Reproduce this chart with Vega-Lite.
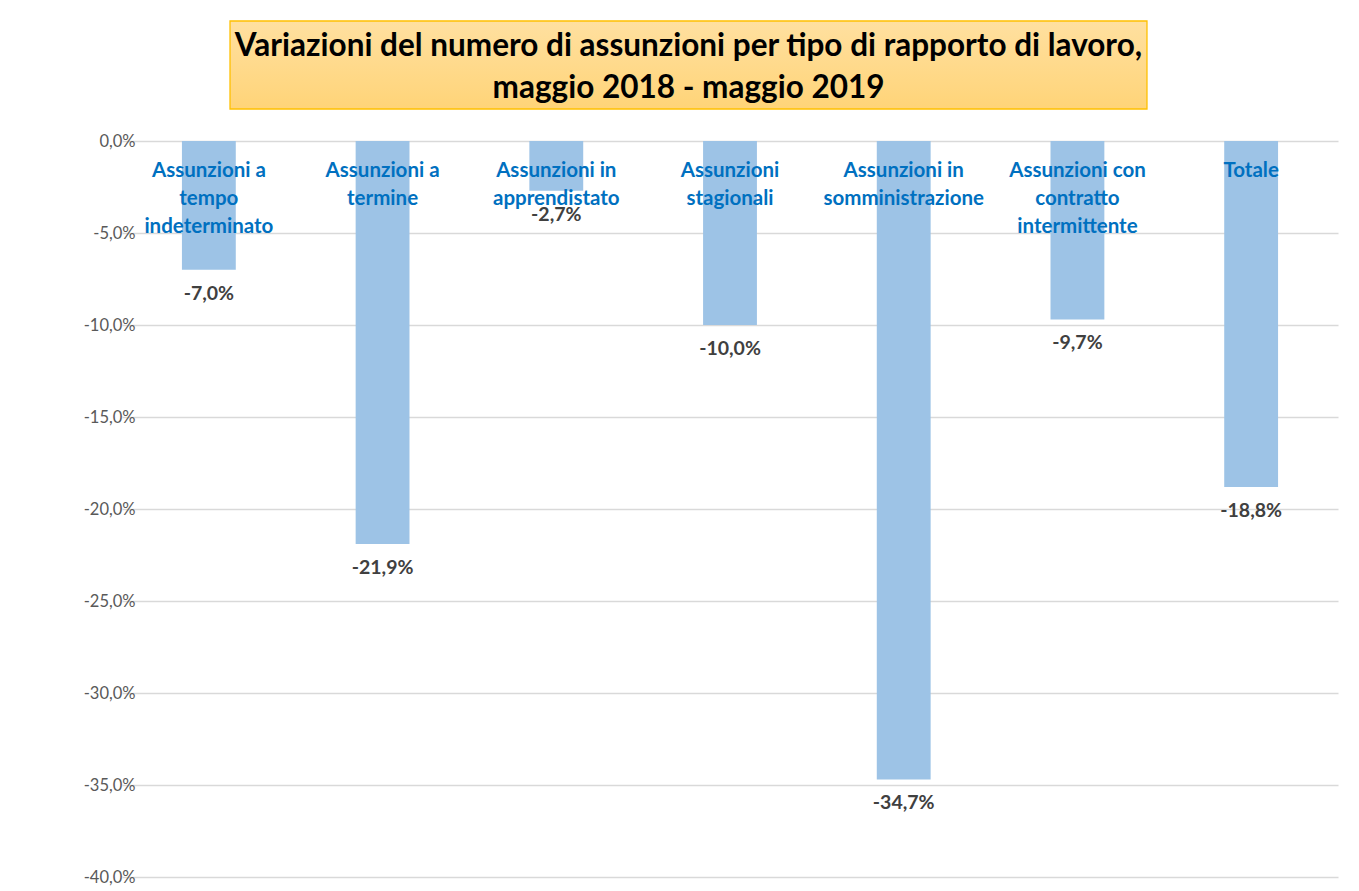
{
  "$schema": "https://vega.github.io/schema/vega-lite/v6.json",
  "padding": {"left": 83, "top": 20, "right": 5, "bottom": 5},
  "background": "white",
  "config": {
    "locale": {"number": {"decimal": ",", "thousands": ".", "grouping": [3], "currency": ["€", ""], "minus": "-"}},
    "font": "Lato"
  },
  "datasets": {
    "titolo": [{"t": "Variazioni del numero di assunzioni per tipo di rapporto di lavoro,\nmaggio 2018 - maggio 2019"}],
    "main": [
      {"tipo": "Assunzioni a\ntempo\nindeterminato", "v": -0.070},
      {"tipo": "Assunzioni a\ntermine", "v": -0.219},
      {"tipo": "Assunzioni in\napprendistato", "v": -0.027},
      {"tipo": "Assunzioni\nstagionali", "v": -0.100},
      {"tipo": "Assunzioni in\nsomministrazione", "v": -0.347},
      {"tipo": "Assunzioni con\ncontratto\nintermittente", "v": -0.097},
      {"tipo": "Totale", "v": -0.188}
    ]
  },
  "spacing": 23,
  "center": true,
  "vconcat": [
    {
      "width": 1216,
      "height": 88,
      "view": {"stroke": null},
      "data": {"name": "titolo"},
      "encoding": {
        "x": {"field": "t", "type": "nominal", "axis": null,
              "scale": {"paddingInner": 0, "paddingOuter": 0.16305, "align": 0.3612}}
      },
      "layer": [
        {
          "mark": {"type": "bar", "stroke": "#FFC000", "strokeWidth": 1.3,
                   "fill": {"gradient": "linear", "x1": 0, "y1": 0, "x2": 0, "y2": 1,
                            "stops": [{"offset": 0, "color": "#FFE0A0"}, {"offset": 1, "color": "#FFD478"}]}}
        },
        {
          "mark": {"type": "text", "fontSize": 31.5, "fontWeight": "bold", "lineHeight": 42, "lineBreak": "\n", "color": "#000000", "baseline": "middle", "align": "center", "dy": -18},
          "encoding": {"text": {"field": "t"}}
        }
      ]
    },
    {
      "width": 1216,
      "height": 736,
      "view": {"stroke": null},
      "data": {"name": "main"},
      "encoding": {
        "x": {"field": "tipo", "type": "nominal", "sort": null, "axis": null,
              "scale": {"paddingInner": 0.69, "paddingOuter": 0.345}}
      },
      "layer": [
        {
          "mark": {"type": "bar", "color": "#9DC3E6"},
          "encoding": {
            "y": {"field": "v", "type": "quantitative", "title": null,
                  "scale": {"domain": [-0.4, 0], "nice": false},
                  "axis": {"values": [0, -0.05, -0.1, -0.15, -0.2, -0.25, -0.3, -0.35, -0.4], "format": ".1%",
                           "domain": false, "ticks": false, "tickSize": 0, "labelPadding": -13, "labelFontSize": 16.5,
                           "labelColor": "#595959", "gridColor": "#D9D9D9", "gridWidth": 1.3}}
          }
        },
        {
          "mark": {"type": "text", "fontSize": 20.5, "fontWeight": "bold", "color": "#0070C0", "lineBreak": "\n", "lineHeight": 28, "baseline": "top", "dy": 20},
          "encoding": {"y": {"datum": 0}, "text": {"field": "tipo"}}
        },
        {
          "mark": {"type": "text", "fontSize": 19.5, "fontWeight": "bold", "color": "#404040", "baseline": "middle", "dy": 24},
          "encoding": {"y": {"field": "v", "type": "quantitative"}, "text": {"field": "v", "format": ".1%"}}
        }
      ]
    }
  ]
}
